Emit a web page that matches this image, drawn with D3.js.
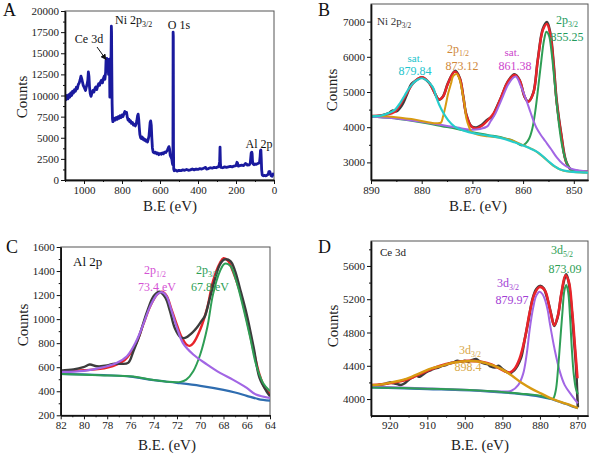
<!DOCTYPE html>
<html><head><meta charset="utf-8">
<script src="https://cdn.jsdelivr.net/npm/d3@7"></script>
<style>body{margin:0;background:#fff}svg{display:block}text{font-family:"Liberation Serif","Times New Roman",serif}</style>
</head><body><svg id="c" width="591" height="456"></svg>
<script>
// ---------- DATA ----------
// Panel A: survey spectrum [B.E., counts]
const surveyA = [[1100,9800],[1095,9500],[1090,10000],[1085,9600],[1080,10100],[1075,9800],[1070,10300],[1065,10000],[1060,10500],[1055,10300],[1050,10700],[1045,10500],[1040,11000],[1035,10800],[1030,11300],[1025,11500],[1020,11900],[1016,12300],[1012,12000],[1008,11600],[1004,11200],[1000,11000],[996,10800],[992,10600],[988,11000],[984,11300],[980,11800],[977,12800],[974,12300],[971,11000],[967,10200],[963,9900],[958,10300],[953,10600],[948,10400],[943,10800],[938,11000],[933,10700],[928,11100],[923,11400],[918,11200],[913,11600],[908,11800],[903,11500],[898,12000],[893,12300],[890,11900],[886,12800],[884,14200],[882,14000],[880,14400],[878,14100],[876,14300],[873,14200],[871,12500],[869,14200],[866,14300],[864,9800],[862,13800],[860,14000],[858,14200],[857,16000],[856,18200],[855,17500],[854,14000],[852,9000],[850,7200],[848,6900],[845,7000],[840,7300],[835,7100],[830,7400],[825,7200],[820,7500],[815,7300],[810,7600],[805,7400],[800,7700],[795,7500],[790,7800],[785,8100],[780,7900],[776,8000],[772,7400],[768,7100],[764,7200],[760,6900],[755,7000],[750,6700],[745,6800],[740,6500],[735,6600],[730,6400],[726,6600],[722,7000],[718,7600],[715,7800],[712,7200],[709,6200],[706,5400],[702,5000],[698,4900],[694,5100],[690,4800],[686,4900],[682,4700],[678,4800],[674,4600],[670,4700],[666,4500],[662,4800],[658,5200],[655,6000],[652,6800],[649,7000],[646,6500],[643,5000],[640,3800],[636,3300],[630,3200],[624,3300],[618,3100],[612,3200],[606,3000],[600,3150],[594,3050],[588,3200],[582,3100],[576,3300],[570,3250],[565,3400],[560,3600],[556,3800],[553,3950],[550,3700],[546,2900],[542,2700],[538,2500],[535,2000],[533,1800],[532,3000],[531,17500],[530,17000],[529,4000],[528,1300],[525,1100],[520,1200],[510,1050],[500,1150],[490,1100],[480,1200],[470,1150],[460,1250],[450,1150],[440,1200],[430,1300],[420,1200],[410,1300],[400,1250],[390,1350],[380,1300],[370,1400],[360,1500],[355,1300],[345,1350],[335,1450],[325,1400],[315,1500],[305,1450],[295,1550],[290,1600],[286,2200],[284,3900],[282,2000],[280,1500],[270,1450],[260,1550],[250,1500],[240,1550],[230,1600],[220,1550],[210,1650],[200,1700],[195,2100],[192,2000],[188,1650],[180,1700],[170,1750],[160,1700],[150,1950],[145,1900],[140,1750],[130,1800],[125,2000],[120,3200],[117,3300],[115,3100],[113,2200],[110,1900],[105,1800],[100,1900],[95,1850],[90,1900],[85,1950],[80,2000],[76,2100],[73,2800],[71,3500],[69,3550],[67,2500],[65,1200],[62,600],[60,550],[55,500],[50,550],[45,500],[40,520],[35,600],[30,700],[27,1000],[25,900],[22,1000],[20,800],[15,500],[10,450],[5,700],[0,800]];

// Panel B: Ni 2p
const rawB = [[890,4310],[888,4330],[886.5,4400],[885.8,4470],[885,4450],[884,4600],[883,4900],[882,5230],[881,5340],[880,5420],[879,5330],[878,5150],[877.4,4960],[876.6,4780],[875.8,4870],[874.8,5260],[873.4,5600],[872.5,5400],[871.8,4870],[871.2,4360],[870.2,4030],[869.2,3990],[868.2,4060],[867,4220],[866,4300],[865.6,4440],[864.3,4860],[863,5300],[861.7,5500],[860.7,5340],[859.7,4860],[859,4730],[858,4970],[857.1,5920],[856.1,6800],[855.3,6990],[854.6,6650],[854,5850],[853.4,4780],[852.5,3820],[851.5,3020],[850.5,2790],[849,2750],[847,2730]];
const fitB = [[890,4320],[887.2,4350],[885.3,4440],[883.3,4868],[881.7,5246],[880,5417],[878.7,5294],[877.4,4962],[876.6,4792],[875.8,4868],[874.8,5246],[873.5,5578],[872.5,5392],[871.8,4868],[871.2,4347],[870.2,4015],[869.2,3968],[868.2,4034],[866.9,4205],[865.6,4441],[864.3,4868],[863,5294],[861.7,5483],[860.7,5341],[859.7,4868],[859,4725],[858,4962],[857.1,5909],[856.1,6762],[855.3,6932],[854.6,6600],[854,5800],[853.4,4750],[852.5,3800],[851.5,3000],[850.5,2790],[849,2750],[847,2730]];
const peak855B = [[890,4300],[886,4260],[882,4180],[879,4110],[876,4030],[873,3950],[870,3860],[867,3780],[864,3700],[862,3620],[860.3,3480],[859.5,3540],[858.8,3680],[858.2,3950],[857.6,4450],[857,5150],[856.4,5900],[855.9,6450],[855.4,6710],[854.9,6600],[854.4,6150],[853.9,5450],[853.4,4700],[852.9,4050],[852.4,3550],[851.8,3150],[851.2,2920],[850.5,2790],[849.5,2740],[847,2720]];
const sat861B = [[890,4300],[886,4260],[882,4190],[879,4130],[876,4060],[873,3990],[870.5,3930],[868.5,3950],[867,4030],[866.5,4150],[865.6,4350],[864.3,4770],[863,5200],[862,5400],[861.4,5440],[860.4,5150],[859.4,4780],[858.6,4450],[858,4200],[857.4,3990],[856.6,3800],[855.6,3600],[854.5,3380],[853.4,3150],[852.2,2960],[851,2850],[850,2800],[847,2740]];
const peak873B = [[890,4320],[886,4300],[882,4230],[879,4150],[877,4110],[876.2,4130],[875.8,4300],[875.3,4600],[874.8,4950],[874.2,5250],[873.8,5450],[873.1,5510],[872.5,5340],[872,5000],[871.5,4600],[871.2,4250],[870.6,3980],[870.2,3870],[869,3790],[867,3740],[864,3690],[862,3620],[860,3490],[858,3360],[856,3150],[854,2900],[852,2760],[850,2730],[847,2710]];
const sat880B = [[890,4310],[888,4330],[886.5,4400],[885.3,4490],[884.2,4700],[883.3,4915],[882.5,5100],[881.7,5250],[880.8,5350],[880,5390],[879.2,5350],[878.4,5250],[877.6,5080],[877.1,4840],[876.1,4500],[874.8,4200],[873.5,4015],[871.5,3890],[869.5,3820],[866.9,3760],[864.3,3690],[861.7,3570],[859,3420],[857,3280],[855,3030],[853,2820],[851,2745],[847,2710]];

// Panel C: Al 2p
const rawC = [[82,572],[80.9,581],[80.05,600],[79.5,622],[78.9,608],[78,614],[77.5,628],[76.9,628],[76.2,636],[75.75,733],[75.2,872],[74.6,1053],[74,1192],[73.5,1228],[73,1178],[72.6,1067],[72.2,928],[71.7,850],[71.3,844],[70.7,886],[70.3,928],[69.9,983],[69.6,1025],[69.2,1164],[68.7,1344],[68.3,1456],[67.9,1497],[67.4,1483],[67,1400],[66.6,1261],[66,1039],[65.4,761],[64.9,511],[64.3,400],[64,358]];
const fitC = [[82,565],[80,575],[78,596],[76.5,660],[75.5,800],[74.9,956],[74.3,1108],[73.7,1206],[73.3,1228],[72.9,1195],[72.5,1090],[72,950],[71.6,850],[71.2,790],[70.9,778],[70.6,800],[70,914],[69.4,1094],[68.9,1317],[68.3,1469],[68,1506],[67.6,1483],[67.2,1400],[66.6,1233],[66,997],[65.4,733],[64.9,539],[64.4,420],[64,380]];
const p12C = [[82,561],[80,570],[78.6,594],[77.2,636],[76.3,692],[75.5,817],[74.9,956],[74.3,1108],[73.7,1206],[73.3,1225],[72.9,1192],[72.5,1081],[72,928],[71.5,803],[70.6,706],[69.4,622],[68.3,553],[67.2,497],[66,428],[65.2,372],[64,344]];
const p32C = [[82,544],[78.6,533],[75.75,522],[74.3,497],[72.9,480],[71.7,478],[71.2,497],[70.6,567],[70,706],[69.4,928],[68.9,1206],[68.3,1400],[67.9,1461],[67.4,1442],[66.9,1317],[66.3,1094],[65.7,844],[65.2,622],[64.6,469],[64,400]];
const bgC = [[82,544],[78,533],[76,522],[74,492],[72,470],[70,445],[68,412],[67,390],[66,362],[65,335],[64,322]];

// Panel D: Ce 3d
const rawD = [[925,4150],[923,4170],[921,4185],[920,4200],[919,4190],[918,4180],[917,4170],[916,4190],[915,4230],[914,4260],[913,4280],[912,4270],[911,4300],[910,4330],[909,4350],[908,4370],[907,4380],[906,4400],[905,4410],[904,4430],[903,4440],[902,4460],[901,4450],[900,4460],[899,4450],[898,4470],[897,4480],[896,4450],[895,4430],[894,4420],[893,4390],[892,4380],[891,4400],[890,4360],[889,4330],[888,4310],[887,4340],[886,4400],[885,4500],[884,4730],[883,4960],[882,5200],[881,5320],[880,5360],[879,5330],[878,5200],[877,5020],[876.2,4880],[875.3,4980],[874.4,5230],[873.5,5440],[873,5500],[872.4,5420],[871.6,5100],[870.9,4700],[870.4,4400],[870.1,4100],[869.9,3900]];
const fitD = [[925,4168],[920,4190],[915,4240],[910,4340],[905,4420],[900,4458],[897,4455],[895.6,4448],[892.9,4416],[891.1,4375],[889.4,4335],[888,4320],[886.7,4368],[885.4,4488],[884,4728],[882.7,5048],[881.4,5268],[880.1,5348],[878.7,5308],[877.4,5088],[876.2,4888],[875.2,5008],[874.3,5268],[873.2,5488],[872.3,5408],[871.4,5048],[870.7,4648],[870,4250]];
const p898D = [[925,4168],[922.2,4176],[919.5,4200],[916.8,4228],[914.2,4268],[911.5,4320],[908.9,4368],[906.2,4400],[903.5,4435],[900.9,4452],[898.2,4458],[895.6,4445],[892.9,4410],[890.2,4360],[887.6,4285],[884.9,4195],[882.3,4125],[879.6,4065],[876.9,4005],[874.3,3962],[871.6,3922],[869.9,3890]];
const p880D = [[925,4150],[915,4135],[905,4120],[897,4105],[890.2,4090],[887.6,4100],[885.8,4168],[884.5,4300],[883.5,4550],[882.7,4848],[881.8,5100],[881,5240],[880.1,5290],[879.3,5260],[878.7,5200],[877.9,5060],[877.4,4920],[876.1,4600],[874.7,4330],[873.4,4168],[871.6,4048],[869.9,3948]];
const p873D = [[925,4140],[910,4125],[895,4100],[885,4065],[880,4040],[877.5,4010],[876.5,4005],[875.8,4100],[875.2,4350],[874.6,4700],[874,5050],[873.5,5300],[873,5370],[872.5,5290],[872,5000],[871.5,4600],[871,4300],[870.4,4120],[869.9,4060]];
const bgD = [[925,4140],[910,4120],[895,4095],[885,4060],[880,4030],[877,4000],[875,3970],[873,3940],[871,3905],[869.9,3890]];

// tick labels
const ticksA = {x:[1000,800,600,400,200,0], y:[0,2500,5000,7500,10000,12500,15000,17500,20000]};
const ticksB = {x:[890,880,870,860,850], y:[3000,4000,5000,6000,7000]};
const ticksC = {x:[82,80,78,76,74,72,70,68,66,64], y:[200,400,600,800,1000,1200,1400,1600]};
const ticksD = {x:[920,910,900,890,880,870], y:[4000,4400,4800,5200,5600]};

// ---------- DRAW ----------
const svg = d3.select('#c');
svg.append('rect').attr('width',591).attr('height',456).attr('fill','#fff');
svg.append('defs').append('marker').attr('id','arr').attr('viewBox','0 0 10 10').attr('refX',9).attr('refY',5)
  .attr('markerWidth',6).attr('markerHeight',6).attr('orient','auto')
  .append('path').attr('d','M0,0L10,5L0,10z').attr('fill','#111');

const fmt = d3.format('d');
function panel(o){
  const g = svg.append('g');
  const x = d3.scaleLinear().domain(o.xd).range([o.l,o.r]);
  const y = d3.scaleLinear().domain(o.yd).range([o.b,o.t]);
  g.append('rect').attr('x',o.l).attr('y',o.t).attr('width',o.r-o.l).attr('height',o.b-o.t)
    .attr('fill','none').attr('stroke','#555').attr('stroke-width',1);
  const clip = 'clip'+o.id;
  g.append('clipPath').attr('id',clip).append('rect').attr('x',o.l).attr('y',o.t).attr('width',o.r-o.l).attr('height',o.b-o.t);
  const lines = g.append('g').attr('clip-path',`url(#${clip})`);
  o.series.forEach(s=>{
    lines.append('path').datum(s.d)
      .attr('d', d3.line().x(d=>x(d[0])).y(d=>y(d[1])).curve(s.curve||d3.curveCatmullRom.alpha(0.5)))
      .attr('fill','none').attr('stroke',s.c).attr('stroke-width',s.w||2).attr('stroke-linejoin','round');
  });
  g.append('g').attr('transform',`translate(0,${o.b})`)
    .call(d3.axisBottom(x).tickValues(o.ticks.x).tickFormat(fmt).tickSize(4).tickSizeOuter(0).tickPadding(2));
  g.append('g').attr('transform',`translate(0,${o.b})`)
    .call(d3.axisBottom(x).tickValues(o.minx).tickSize(2).tickSizeOuter(0).tickFormat(''));
  g.append('g').attr('transform',`translate(${o.l},0)`)
    .call(d3.axisLeft(y).tickValues(o.ticks.y).tickFormat(fmt).tickSize(4).tickSizeOuter(0).tickPadding(2));
  g.append('g').attr('transform',`translate(${o.l},0)`)
    .call(d3.axisLeft(y).tickValues(o.miny).tickSize(2).tickSizeOuter(0).tickFormat(''));
  g.selectAll('.domain').attr('stroke','#111').attr('stroke-width',1.4);
  g.selectAll('.tick line').attr('stroke','#111').attr('stroke-width',1);
  g.selectAll('.tick text').attr('font-family','"Liberation Serif",serif').attr('font-size',11).attr('fill','#222');
  g.append('text').attr('x',o.xt[0]).attr('y',o.xt[1]).attr('text-anchor','middle').attr('font-size',15).attr('fill','#222').text(o.xtitle);
  g.append('text').attr('transform',`translate(${o.yt[0]},${o.yt[1]}) rotate(-90)`).attr('text-anchor','middle').attr('font-size',15).attr('fill','#222').text('Counts');
  g.append('text').attr('x',o.letter[0]).attr('y',o.letter[1]).attr('font-size',18).attr('fill','#111').text(o.id);
  return {g,x,y};
}

function label(g, x, y, parts, color, size, anchor){
  const t = g.append('text').attr('x',x).attr('y',y).attr('fill',color).attr('font-size',size).attr('text-anchor',anchor||'middle');
  let shifted = false;
  parts.forEach(p=>{
    const sp = t.append('tspan').text(p[0]);
    if(p[1]==='sub'){ sp.attr('dy', 2.5).attr('font-size', size*0.66); shifted = true; }
    else if(shifted){ sp.attr('dy', -2.5); shifted = false; }
  });
}

const red='#e8242a', raw='#3c3c3c', green='#2e9e55', purple='#a266e4', orange='#d89a12', cyan='#26cccc', blue='#2f6db0';

// Panel A
const A = panel({id:'A', l:65, r:274, t:11, b:180, xd:[1100,0], yd:[0,20000],
  ticks:ticksA, minx:[1100,900,700,500,300,100], miny:[1250,3750,6250,8750,11250,13750,16250,18750],
  xtitle:'B.E (eV)', xt:[170,211], yt:[27,97], letter:[3,16],
  series:[{d:surveyA, c:'#1a1a9e', w:2.8, curve:d3.curveLinear}]});
label(A.g, 89, 43, [['Ce 3d','']], '#111', 12);
A.g.append('line').attr('x1',97).attr('y1',47).attr('x2',106).attr('y2',59.5).attr('stroke','#111').attr('stroke-width',1).attr('marker-end','url(#arr)');
label(A.g, 115, 24, [['Ni 2p',''],['3/2','sub']], '#111', 12, 'start');
label(A.g, 179, 29, [['O 1s','']], '#111', 12);
label(A.g, 259, 148, [['Al 2p','']], '#111', 12);

// Panel B
const B = panel({id:'B', l:371, r:588, t:4, b:180, xd:[890,847.2], yd:[2500,7500],
  ticks:ticksB, minx:[885,875,865,855], miny:[3500,4500,5500,6500],
  xtitle:'B.E. (eV)', xt:[478,211], yt:[337,90], letter:[318,16],
  series:[{d:rawB,c:raw,w:2.6},{d:fitB,c:red,w:2.4},{d:peak855B,c:green,w:2},{d:sat861B,c:purple,w:2},{d:peak873B,c:orange,w:2},{d:sat880B,c:cyan,w:2.2}]});
label(B.g, 377, 25, [['Ni 2p',''],['3/2','sub']], '#333', 11, 'start');
label(B.g, 415, 62, [['sat.','']], '#22c4cc', 11);
label(B.g, 415, 75, [['879.84','']], '#22c4cc', 12);
label(B.g, 458, 53, [['2p',''],['1/2','sub']], '#d0883a', 12);
label(B.g, 462, 70, [['873.12','']], '#d0883a', 12);
label(B.g, 512, 56, [['sat.','']], '#cc44cc', 11);
label(B.g, 515, 70, [['861.38','']], '#cc44cc', 12);
label(B.g, 567, 24, [['2p',''],['3/2','sub']], '#249a5c', 12);
label(B.g, 567, 41, [['855.25','']], '#249a5c', 12);

// Panel C
const C = panel({id:'C', l:60.7, r:270, t:247, b:415.3, xd:[82,64], yd:[200,1600],
  ticks:ticksC, minx:[81,79,77,75,73,71,69,67,65], miny:[300,500,700,900,1100,1300,1500],
  xtitle:'B.E. (eV)', xt:[167,450], yt:[28,325], letter:[6,253],
  series:[{d:fitC,c:red,w:2.4},{d:rawC,c:raw,w:2.4},{d:bgC,c:blue,w:2.2},{d:p32C,c:green,w:2},{d:p12C,c:purple,w:2.2}]});
label(C.g, 73, 266, [['Al 2p','']], '#111', 13, 'start');
label(C.g, 155, 274, [['2p',''],['1/2','sub']], '#d452d4', 12);
label(C.g, 157, 291, [['73.4 eV','']], '#d452d4', 12);
label(C.g, 207, 274, [['2p',''],['3/2','sub']], '#2ea055', 12);
label(C.g, 210, 291, [['67.8 eV','']], '#2ea055', 12);

// Panel D
const D = panel({id:'D', l:371, r:588, t:241, b:415.7, xd:[925,867.2], yd:[3800,5900],
  ticks:ticksD, minx:[925,915,905,895,885,875], miny:[4200,4600,5000,5400,5800],
  xtitle:'B.E. (eV)', xt:[480,450], yt:[338,326], letter:[318,253],
  series:[{d:bgD,c:blue,w:2.2},{d:rawD,c:raw,w:2.6},{d:fitD,c:red,w:2.6},{d:p880D,c:purple,w:2},{d:p873D,c:green,w:2},{d:p898D,c:orange,w:2.4}]});
label(D.g, 380, 256, [['Ce 3d','']], '#222', 11, 'start');
label(D.g, 562, 254, [['3d',''],['5/2','sub']], '#2ea055', 12);
label(D.g, 565, 273, [['873.09','']], '#2ea055', 12);
label(D.g, 508, 287, [['3d',''],['3/2','sub']], '#a23ed4', 12);
label(D.g, 512, 304, [['879.97','']], '#a23ed4', 12);
label(D.g, 470, 354, [['3d',''],['3/2','sub']], '#d8a848', 12);
label(D.g, 468, 371, [['898.4','']], '#d8a848', 12);
</script></body></html>
